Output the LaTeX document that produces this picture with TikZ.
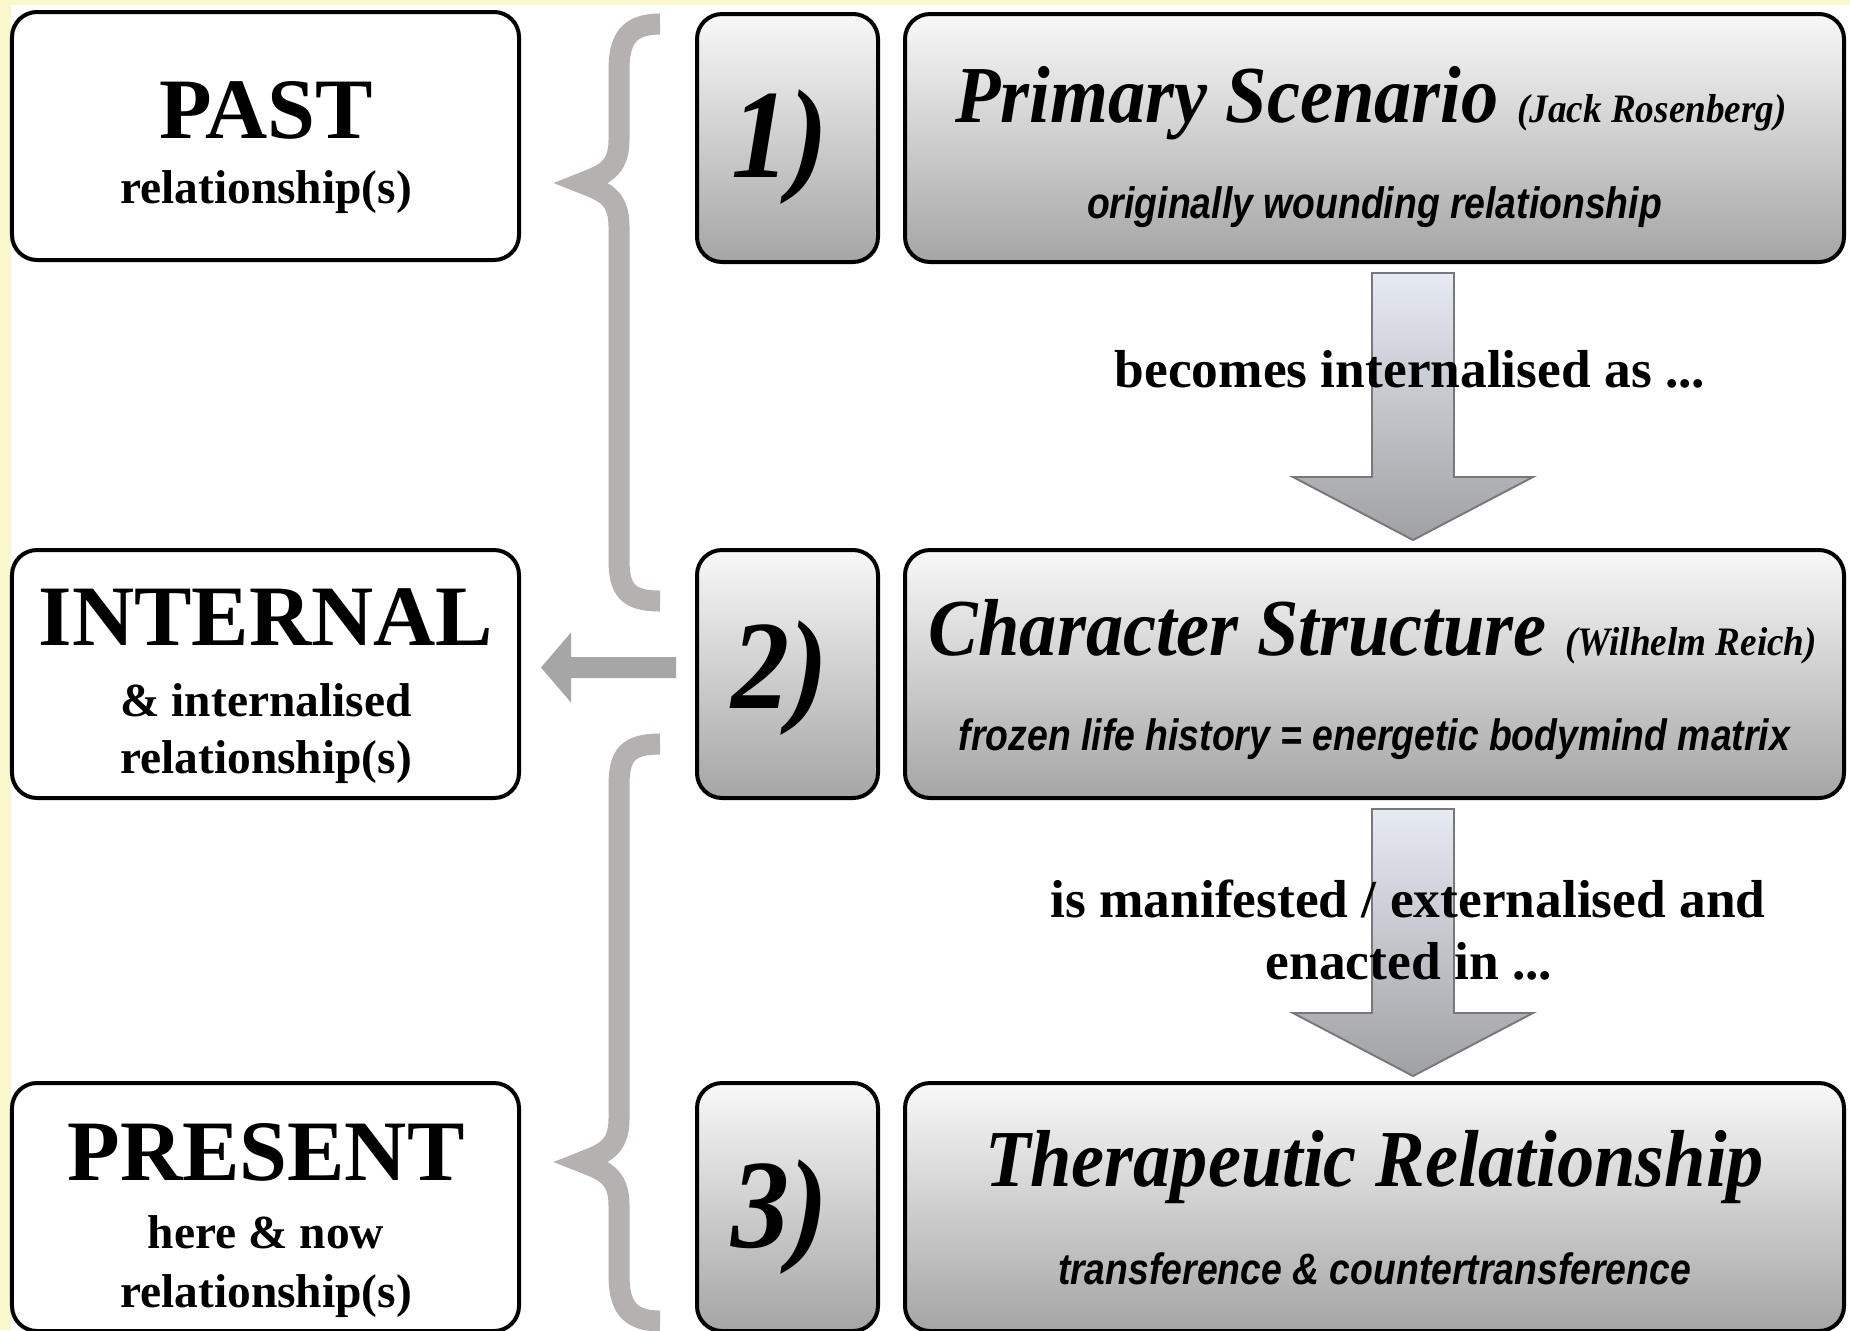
\documentclass[tikz,border=0pt]{standalone}
\usepackage{fontspec}
\setmainfont{Liberation Serif}
\newfontfamily\condserif[FakeStretch=0.92]{Liberation Serif}
\newfontfamily\condsans[FakeStretch=0.85]{Liberation Sans}
\usetikzlibrary{calc}

\definecolor{bgyellow}{RGB}{250,247,205}
\definecolor{boxtop}{RGB}{248,248,248}
\definecolor{boxbot}{RGB}{165,165,165}
\definecolor{arrowtop}{RGB}{230,234,243}
\definecolor{arrowbot}{RGB}{160,161,164}
\definecolor{arrowline}{RGB}{120,120,122}
\definecolor{bracegray}{RGB}{181,177,177}
\definecolor{sidegray}{RGB}{166,166,166}

\begin{document}
\begin{tikzpicture}[
        leftbox/.style={rectangle, rounded corners=2.5mm, draw=black, line width=0.4mm, fill=white, minimum width=5.07cm, minimum height=2.48cm},
        numbox/.style={rectangle, rounded corners=2.5mm, draw=black, line width=0.4mm, top color=boxtop, bottom color=boxbot, minimum width=1.81cm, minimum height=2.48cm},
        mainbox/.style={rectangle, rounded corners=2.5mm, draw=black, line width=0.4mm, top color=boxtop, bottom color=boxbot, minimum width=9.39cm, minimum height=2.48cm},
        headtext/.style={font=\fontsize{24.5}{28}\selectfont\bfseries, inner sep=0pt, anchor=base},
        subtext/.style={font=\fontsize{13.5}{16}\selectfont\bfseries, inner sep=0pt, anchor=base},
        numtext/.style={font=\condserif\fontsize{36}{40}\selectfont\bfseries\itshape, inner sep=0pt, anchor=base},
        titletext/.style={font=\condserif\fontsize{23}{26}\selectfont\bfseries\itshape, inner sep=0pt, anchor=base},
        notetext/.style={font=\condsans\fontsize{12.5}{15}\selectfont\bfseries\itshape, inner sep=0pt, anchor=base},
        flowtext/.style={font=\fontsize{15.2}{17.6}\selectfont\bfseries, inner sep=0pt, anchor=base},
        bigarrow/.style={draw=arrowline, line width=0.55pt, top color=arrowtop, bottom color=arrowbot},
        sidearrow/.style={fill=sidegray},
        bracestroke/.style={draw=bracegray, line width=2.1mm},
        curly/.pic={
            \draw[bracestroke] (1.03,1.59) .. controls (0.71,1.59) and (0.62,1.43) .. (0.62,1.13)
                -- (0.62,0.43) .. controls (0.62,0.13) and (0.45,0.08) .. (0.25,0)
                .. controls (0.45,-0.08) and (0.62,-0.13) .. (0.62,-0.43)
                -- (0.62,-3.77) .. controls (0.62,-4.07) and (0.71,-4.18) .. (1.03,-4.18);
        }
    ]

    % Background
    \useasboundingbox (0,0) rectangle (18.5,-13.3);
    \fill[bgyellow] (0,0) rectangle (18.5,-13.3);
    \fill[white] (0.11,-0.05) rectangle (18.5,-13.3);

    % Braces
    \pic at (5.57,-1.83) {curly};
    \pic[yscale=-1] at (5.57,-11.62) {curly};

    % Left column
    \node[leftbox] (past) at (2.655,-1.36) {};
    \node[leftbox] (internal) at (2.655,-6.74) {};
    \node[leftbox] (present) at (2.655,-12.07) {};

    \node[headtext] (pastT) at (2.66,-1.38) {PAST};
    \node[subtext] (pastS) at (2.66,-2.03) {relationship(s)};
    \node[headtext] (internalT) at (2.66,-6.45) {INTERNAL};
    \node[subtext] (internalS) at (2.66,-7.16) {\& internalised};
    \node[subtext] (internalR) at (2.66,-7.73) {relationship(s)};
    \node[headtext] (presentT) at (2.66,-11.80) {PRESENT};
    \node[subtext] (presentS) at (2.66,-12.48) {here \& now};
    \node[subtext] (presentR) at (2.66,-13.07) {relationship(s)};

    % Numbers
    \node[numbox] (n1) at (7.875,-1.38) {};
    \node[numbox] (n2) at (7.875,-6.74) {};
    \node[numbox] (n3) at (7.875,-12.07) {};

    \node[numtext] (n1T) at (7.80,-1.77) {1)};
    \node[numtext] (n2T) at (7.80,-7.08) {2)};
    \node[numtext] (n3T) at (7.80,-12.47) {3)};

    % Arrow back to the internal box
    \fill[sidearrow] ($(n2.west)+(-0.19,0.17)$) -- ++(-1.05,0) -- ++(0,0.245) -- ++(-0.30,-0.35)
        -- ++(0.30,-0.35) -- ++(0,0.245) -- ++(1.05,0) -- cycle;

    % Main boxes
    \node[mainbox] (scen) at (13.745,-1.38) {};
    \node[mainbox] (charac) at (13.745,-6.74) {};
    \node[mainbox] (thera) at (13.745,-12.07) {};

    % Block arrows
    \path[bigarrow] ($(scen.south)+(-0.025,-0.09)$) -- ++(0.82,0) -- ++(0,-2.04) -- ++(0.79,0)
        -- ++(-1.2,-0.63) -- ++(-1.2,0.63) -- ++(0.79,0) -- cycle;
    \path[bigarrow] ($(charac.south)+(-0.025,-0.09)$) -- ++(0.82,0) -- ++(0,-2.04) -- ++(0.79,0)
        -- ++(-1.2,-0.63) -- ++(-1.2,0.63) -- ++(0.79,0) -- cycle;

    \node[flowtext] (becomesL) at (14.10,-3.87) {becomes internalised as ...};
    \node[flowtext] (manifestL) at (14.08,-9.17) {is manifested / externalised and};
    \node[flowtext] (enactedL) at (14.09,-9.79) {enacted in ...};

    % Box texts
    \node[titletext] (scenT) at (13.71,-1.22) {Primary Scenario {\fontsize{11.5}{13}\selectfont (Jack Rosenberg)}};
    \node[notetext] (scenN) at (13.745,-2.18) {originally wounding relationship};
    \node[titletext] (characT) at (13.73,-6.55) {Character Structure {\fontsize{11.5}{13}\selectfont (Wilhelm Reich)}};
    \node[notetext] (characN) at (13.745,-7.50) {frozen life history = energetic bodymind matrix};
    \node[titletext] (theraT) at (13.745,-11.86) {Therapeutic Relationship};
    \node[notetext] (theraN) at (13.745,-12.84) {transference \& countertransference};

\end{tikzpicture}
\end{document}
